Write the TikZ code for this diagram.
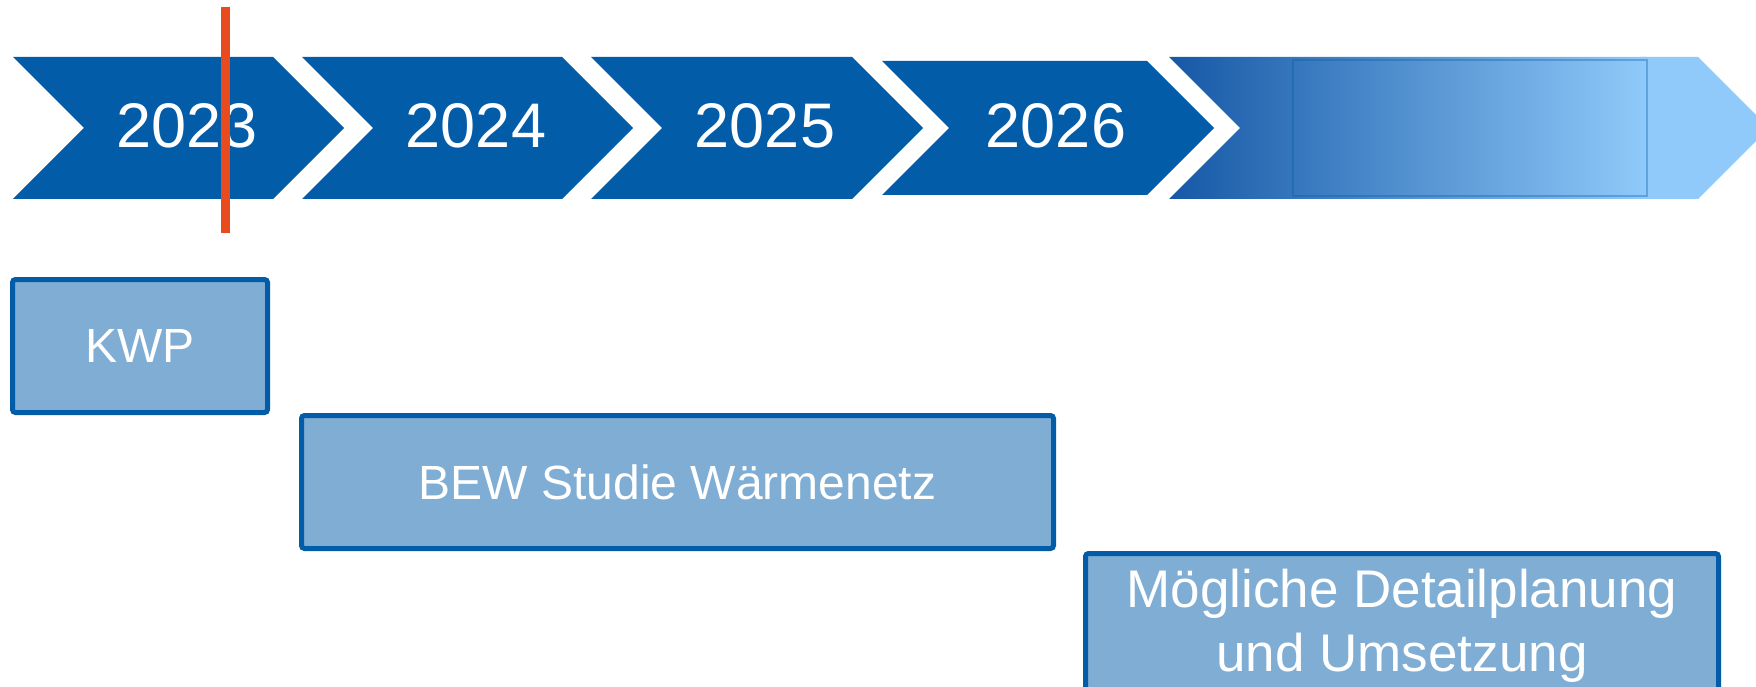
\documentclass[tikz,border=0pt]{standalone}
\usepackage{fontspec}
\setmainfont{Liberation Sans}
\definecolor{chev}{RGB}{3,92,168}
\definecolor{boxfill}{RGB}{128,173,212}
\definecolor{gA}{RGB}{22,88,166}
\definecolor{gB}{RGB}{144,202,250}
\definecolor{redline}{RGB}{232,76,30}
\begin{document}
\begin{tikzpicture}[x=1pt,y=-1pt,
  year/.style={text=white,font=\fontsize{63}{75}\selectfont,inner sep=0pt},
  phase/.style={draw=chev,line width=5pt,fill=boxfill,rounded corners=3pt,text=white,inner sep=0pt,align=center},
  chevfill/.style={fill=chev}]
\useasboundingbox (0,0) rectangle (1756,687);
\clip (0,0) rectangle (1756,687);
% chevrons
\fill[chevfill] (13,57) -- (273,57) -- (344,128) -- (273,199) -- (13,199) -- (84,128) -- cycle;
\fill[chevfill] (302,57) -- (562,57) -- (633,128) -- (562,199) -- (302,199) -- (373,128) -- cycle;
\fill[chevfill] (591,57) -- (852,57) -- (923,128) -- (852,199) -- (591,199) -- (662,128) -- cycle;
\fill[chevfill] (882,61) -- (1147,61) -- (1214,128) -- (1147,195) -- (882,195) -- (949,128) -- cycle;
\begin{scope}
\clip (1169,57) -- (1698,57) -- (1769,128) -- (1698,199) -- (1169,199) -- (1240,128) -- cycle;
\fill[gB] (1640,50) rectangle (1780,210);
\shade[left color=gA,right color=gB] (1169,50) rectangle (1647,210);
\end{scope}
\draw[chev,draw opacity=0.35,line width=2.5pt] (1293,60) rectangle (1647,196);
% year labels
\node[year] (y23) at (187,126) {2023};
\node[year] (y24) at (476,126) {2024};
\node[year] (y25) at (765,126) {2025};
\node[year] (y26) at (1056,126) {2026};
% today marker
\coordinate (rtop) at (225,7);
\coordinate (rbot) at (225,233);
\draw[redline,line width=9pt] (rtop) -- (rbot);
% phases
\node[phase,minimum width=255pt,minimum height=133pt,font=\fontsize{48}{58}\selectfont] (kwp) at (140,346) {KWP};
\node[phase,minimum width=752pt,minimum height=133pt,font=\fontsize{48}{58}\selectfont] (bew) at (677.5,482) {BEW Studie Wärmenetz};
\node[phase,minimum width=633pt,minimum height=145pt,font=\fontsize{53}{64}\selectfont] (det) at (1402,626) {Mögliche Detailplanung\\und Umsetzung};
\end{tikzpicture}
\end{document}
